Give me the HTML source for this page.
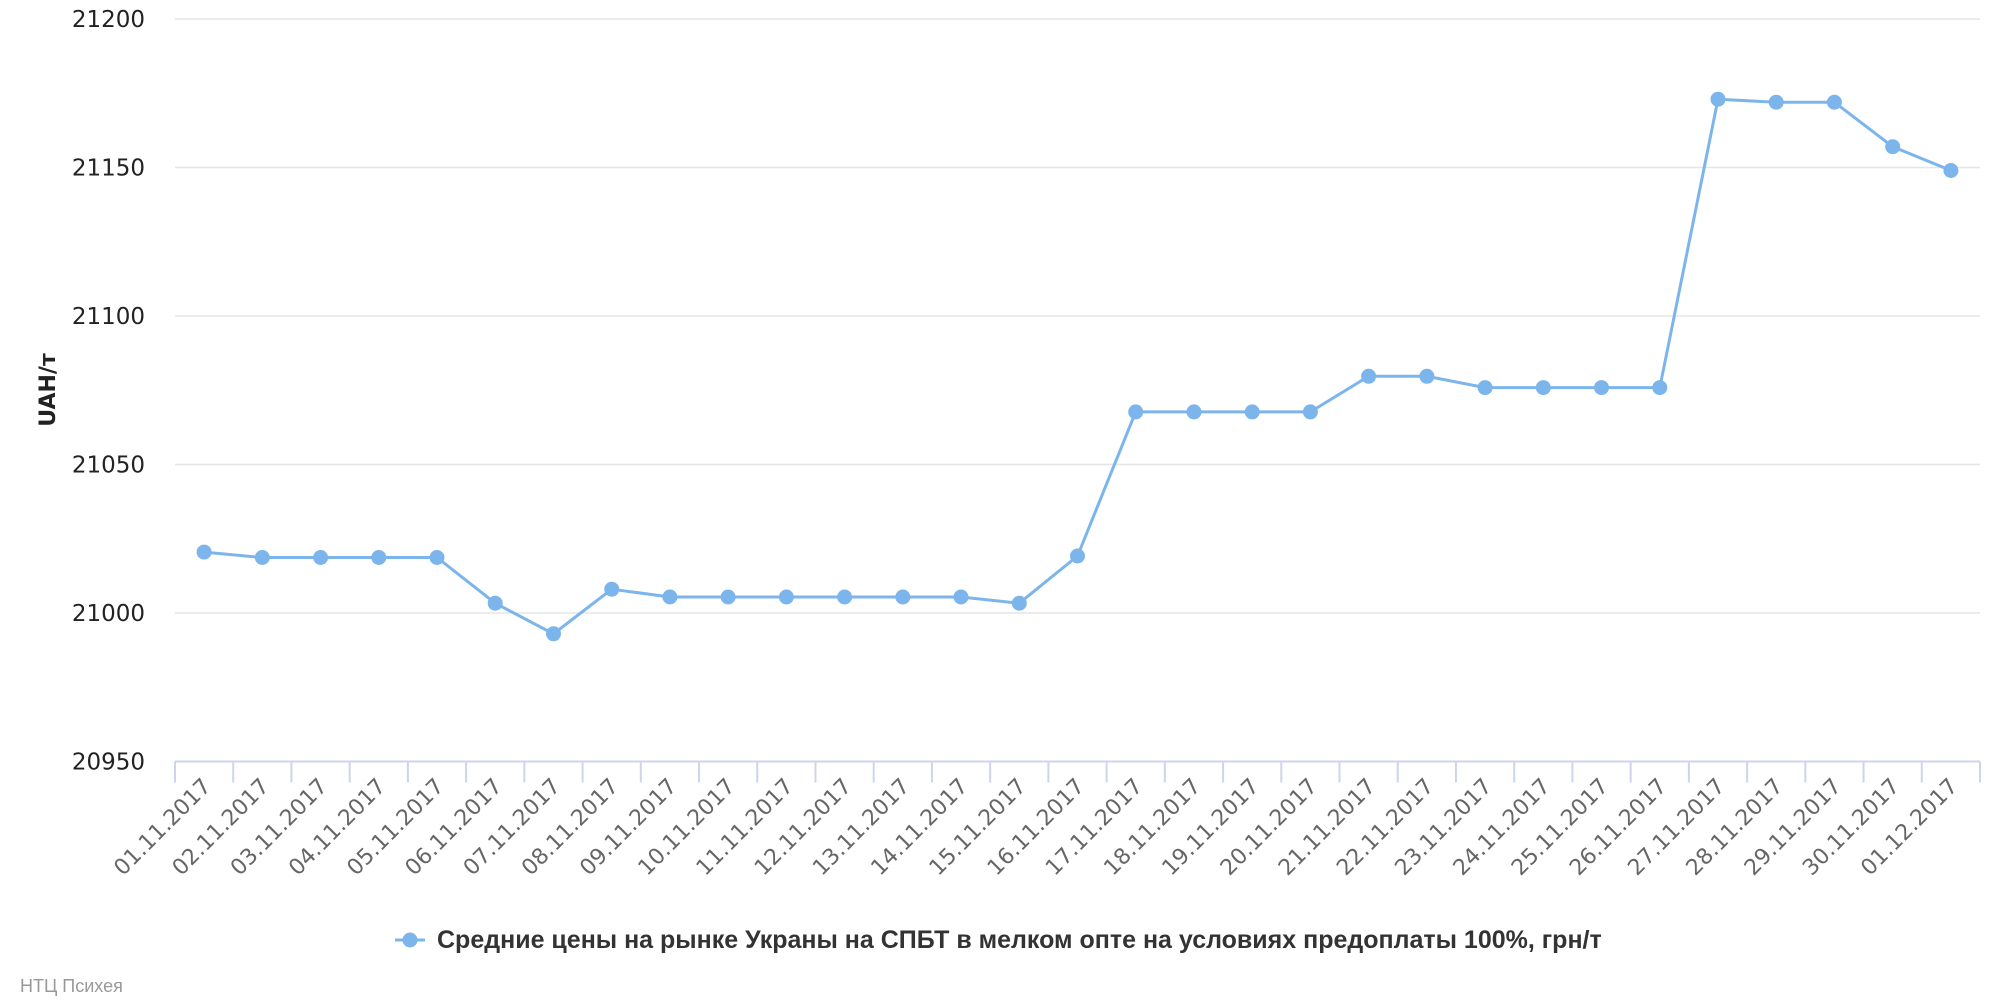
<!DOCTYPE html>
<html><head><meta charset="utf-8"><style>
html,body{margin:0;padding:0;background:#fff;}
svg{display:block;font-family:"DejaVu Sans","Liberation Sans",sans-serif;}
</style></head><body>
<svg id="c" width="2000" height="1000" viewBox="0 0 2000 1000" xmlns="http://www.w3.org/2000/svg"></svg>
<script>
(function(){
var s=document.getElementById('c'),h='';
var T=19,sp=148.5,x0=175,x1=1980,n=31,cw=(x1-x0)/n;
function Y(v){return T+(21200-v)/50*sp;}
for(var k=0;k<=5;k++){var y=T+k*sp,v=21200-k*50;
 if(k<5)h+='<line x1="'+x0+'" x2="'+x1+'" y1="'+y+'" y2="'+y+'" stroke="#e6e6e6" stroke-width="1.5"/>';
 h+='<text x="145" y="'+(y+8)+'" text-anchor="end" font-size="23" fill="#222">'+v+'</text>';}
var ay=T+5*sp;
h+='<line x1="'+x0+'" x2="'+x1+'" y1="'+ay+'" y2="'+ay+'" stroke="#ccd6eb" stroke-width="2"/>';
for(var k=0;k<=n;k++){var x=x0+k*cw;h+='<line x1="'+x+'" x2="'+x+'" y1="'+ay+'" y2="'+(ay+21)+'" stroke="#ccd6eb" stroke-width="2"/>';}
var d=[21020.5,21018.7,21018.7,21018.7,21018.7,21003.3,20993,21008,21005.4,21005.4,21005.4,21005.4,21005.4,21005.4,21003.3,21019.2,21067.7,21067.7,21067.7,21067.7,21079.7,21079.7,21075.9,21075.9,21075.9,21075.9,21173,21172,21172,21157,21149];
var pts=[];
for(var i=0;i<n;i++){var x=x0+cw*(i+0.5);pts.push(x.toFixed(1)+','+Y(d[i]).toFixed(1));
 var day=i<30?('0'+(i+1)).slice(-2)+'.11.2017':'01.12.2017';
 h+='<text transform="translate('+(x+8)+','+(ay+26)+') rotate(-45)" text-anchor="end" font-size="22" fill="#666">'+day+'</text>';}
h+='<polyline points="'+pts.join(' ')+'" fill="none" stroke="#7cb5ec" stroke-width="3"/>';
pts.forEach(function(p){var a=p.split(',');h+='<circle cx="'+a[0]+'" cy="'+a[1]+'" r="7.5" fill="#7cb5ec"/>';});
h+='<text transform="translate(55,390) rotate(-90)" text-anchor="middle" font-size="22" font-weight="bold" fill="#222">UAH/т</text>';
h+='<line x1="395" x2="425" y1="940" y2="940" stroke="#7cb5ec" stroke-width="3"/><circle cx="410" cy="940" r="7.5" fill="#7cb5ec"/>';
h+='<text x="437" y="948" font-size="25" font-weight="bold" fill="#333" font-family="Liberation Sans, sans-serif">Средние цены на рынке Украны на СПБТ в мелком опте на условиях предоплаты 100%, грн/т</text>';
h+='<text x="20" y="992" font-size="18" fill="#999" font-family="Liberation Sans, sans-serif">НТЦ Психея</text>';
s.innerHTML=h;
})();
</script>
</body></html>
